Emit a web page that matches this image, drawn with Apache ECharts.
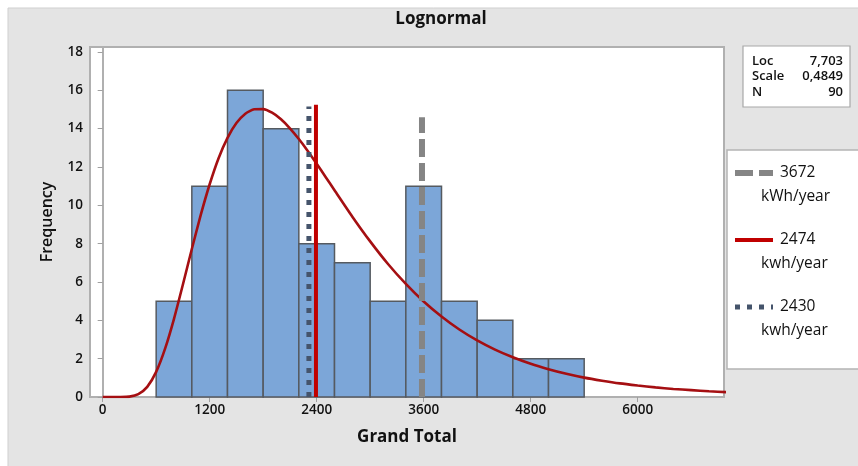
<!DOCTYPE html>
<html>
<head>
<meta charset="utf-8">
<script src="https://cdn.jsdelivr.net/npm/echarts@6/dist/echarts.min.js"></script>
<style>
html,body{margin:0;padding:0;background:#fff;}
#c{width:858px;height:466px;}
</style>
</head>
<body>
<div id="c"></div>
<script>
// ---- data ----
var chartTitle = 'Lognormal';
var xTitle = 'Grand Total';
var yTitle = 'Frequency';
var xTicks = [0, 1200, 2400, 3600, 4800, 6000];
var binEdges = [600, 1000, 1400, 1800, 2200, 2600, 3000, 3400, 3800, 4200, 4600, 5000, 5400];
var binCounts = [5, 11, 16, 14, 8, 7, 5, 11, 5, 4, 2, 2];
var curveX = [0, 100, 200, 300, 400, 500, 600, 700, 800, 900, 1000, 1100, 1200, 1300, 1400, 1500, 1600, 1700, 1800, 1900, 2000, 2100, 2200, 2300, 2400, 2500, 2600, 2800, 3000, 3200, 3400, 3600, 3800, 4000, 4200, 4400, 4600, 4800, 5000, 5200, 5400, 5600, 5800, 6000, 6200, 6400, 6600, 6800, 7000];
var curveY = [0, 0, 0.001, 0.02, 0.15, 0.53, 1.31, 2.52, 4.08, 5.87, 7.72, 9.50, 11.10, 12.46, 13.52, 14.29, 14.78, 15.01, 15.02, 14.83, 14.49, 14.02, 13.46, 12.84, 12.17, 11.48, 10.79, 9.41, 8.12, 6.94, 5.90, 4.98, 4.20, 3.52, 2.95, 2.47, 2.07, 1.73, 1.45, 1.21, 1.01, 0.85, 0.71, 0.60, 0.50, 0.42, 0.36, 0.30, 0.25];
var refNames = ['3672', '2474', '2430'];
var refUnits = ['kWh/year', 'kwh/year', 'kwh/year'];
var refX = [3581, 2392, 2313];
var refTop = [14.6, 15.25, 15.15];
var statLabels = ['Loc', 'Scale', 'N'];
var statValues = ['7,703', '0,4849', '90'];

// ---- styles ----
var refStyles = [
  {color: '#858585', width: 6, type: [18, 6]},
  {color: '#c00000', width: 4, type: 'solid'},
  {color: '#45546b', width: 5, type: [5, 7]}
];
var FONT = 'Open Sans';

var chart = echarts.init(document.getElementById('c'), null, {renderer: 'canvas'});

var histData = binCounts.map(function (c, i) { return [binEdges[i], binEdges[i + 1], c]; });
var curveData = curveX.map(function (x, i) { return [x, curveY[i]]; });

var series = [{
  type: 'custom',
  name: 'hist',
  data: histData,
  encode: {x: [0, 1], y: 2},
  z: 2,
  renderItem: function (params, api) {
    var p0 = api.coord([api.value(0), api.value(2)]);
    var p1 = api.coord([api.value(1), 0]);
    return {
      type: 'rect',
      shape: {x: p0[0], y: p0[1], width: p1[0] - p0[0], height: p1[1] - p0[1]},
      style: {fill: '#7ca6d8', stroke: '#555a60', lineWidth: 1.5}
    };
  }
}, {
  type: 'line',
  name: 'fit',
  data: curveData,
  showSymbol: false,
  symbol: 'none',
  smooth: 0.2,
  clip: true,
  z: 3,
  lineStyle: {color: '#a50f12', width: 2.6}
}];

refX.forEach(function (x, i) {
  series.push({
    type: 'line',
    name: refNames[i],
    data: [[x, 0], [x, refTop[i]]],
    showSymbol: false,
    symbol: 'none',
    z: 4,
    lineStyle: {color: refStyles[i].color, width: refStyles[i].width, type: refStyles[i].type, cap: 'butt'}
  });
});

// legend & stats boxes as graphics
var graphics = [
  {type: 'rect', z: -10, shape: {x: 8, y: 8, width: 860, height: 470}, style: {fill: '#e4e4e4', stroke: '#cfcfcf', lineWidth: 1}, silent: true},
  {type: 'rect', z: 5, shape: {x: 743, y: 46, width: 107, height: 61}, style: {fill: '#fff', stroke: '#a8a8a8', lineWidth: 1.2}},
  {type: 'rect', z: 5, shape: {x: 727, y: 150, width: 140, height: 219}, style: {fill: '#fff', stroke: '#b4b4b4', lineWidth: 1.5}}
];
var statY = [61, 76.5, 92];
statLabels.forEach(function (l, i) {
  graphics.push({type: 'text', z: 6, style: {text: l, x: 752, y: statY[i], fill: '#111', font: '600 13px "' + FONT + '"', textAlign: 'left', textVerticalAlign: 'middle'}});
  graphics.push({type: 'text', z: 6, style: {text: statValues[i], x: 843, y: statY[i], fill: '#111', font: '600 13px "' + FONT + '"', textAlign: 'right', textVerticalAlign: 'middle'}});
});
var legY = [173, 240, 307];
refNames.forEach(function (n, i) {
  graphics.push({type: 'line', z: 6, shape: {x1: 735, y1: legY[i], x2: 773, y2: legY[i]},
    style: {stroke: refStyles[i].color, lineWidth: refStyles[i].width, lineDash: refStyles[i].type === 'solid' ? null : refStyles[i].type}});
  graphics.push({type: 'text', z: 6, style: {text: n, x: 780, y: legY[i], fill: '#111', font: '15.5px "' + FONT + '"', textAlign: 'left', textVerticalAlign: 'middle'}});
  graphics.push({type: 'text', z: 6, style: {text: refUnits[i], x: 761, y: legY[i] + 24, fill: '#111', font: '15.5px "' + FONT + '"', textAlign: 'left', textVerticalAlign: 'middle'}});
});

chart.setOption({
  backgroundColor: '#ffffff',
  animation: false,
  title: {
    text: chartTitle, left: 436, top: 6, textAlign: 'center',
    textStyle: {fontFamily: FONT, fontSize: 17, fontWeight: 'bold', color: '#111'}
  },
  grid: {left: 90, right: 134, top: 47, bottom: 69, show: true, backgroundColor: '#ffffff', borderColor: '#b0b0b0', borderWidth: 2, containLabel: false},
  xAxis: {
    type: 'value', min: -142, max: 6968,
    splitLine: {show: false},
    axisLine: {show: true, onZero: false, lineStyle: {color: '#b0b0b0', width: 2}},
    axisTick: {show: true, customValues: xTicks, length: 5, lineStyle: {color: '#a0a0a0'}},
    axisLabel: {customValues: xTicks, color: '#111', fontFamily: FONT, fontSize: 13.5, fontWeight: 600, margin: 6,
      formatter: function (v) { return String(v); }},
    name: xTitle, nameLocation: 'middle', nameGap: 32,
    nameTextStyle: {fontFamily: FONT, fontSize: 17, fontWeight: 'bold', color: '#111'}
  },
  yAxis: {
    type: 'value', min: 0, max: 18.26, interval: 2,
    splitLine: {show: false},
    axisLine: {show: true, lineStyle: {color: '#b0b0b0', width: 2}},
    axisTick: {show: true, length: 5, lineStyle: {color: '#a0a0a0'}},
    axisLabel: {color: '#111', fontFamily: FONT, fontSize: 13.5, fontWeight: 600, margin: 7,
      showMaxLabel: false},
    name: yTitle, nameLocation: 'middle', nameGap: 35,
    nameTextStyle: {fontFamily: FONT, fontSize: 16, fontWeight: 600, color: '#111'}
  },
  graphic: graphics,
  series: series
});
</script>
</body>
</html>
